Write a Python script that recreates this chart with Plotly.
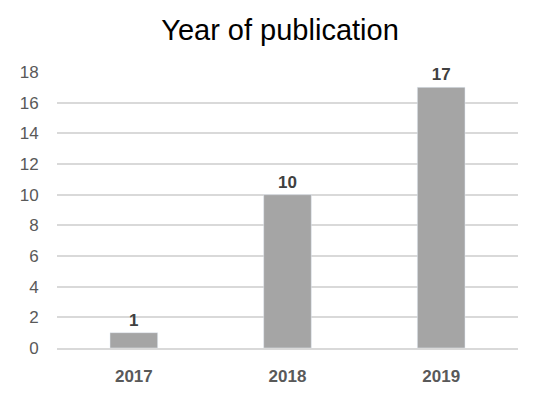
import plotly.graph_objects as go

years = ["2017", "2018", "2019"]
counts = [1, 10, 17]
y_ticks = [0, 2, 4, 6, 8, 10, 12, 14, 16, 18]

FONT = "Liberation Sans, Arial, sans-serif"

fig = go.Figure()
fig.add_trace(go.Bar(
    x=years, y=counts,
    marker=dict(color="#a5a5a5"),
    text=[f"<b>{c}</b>" for c in counts],
    textposition="outside",
    textfont=dict(family=FONT, size=17, color="#404040"),
    cliponaxis=False,
    hoverinfo="skip",
))

fig.update_layout(
    width=544, height=390,
    margin=dict(l=48, r=34, t=64, b=48),
    paper_bgcolor="white", plot_bgcolor="white",
    showlegend=False,
    bargap=0.69,
    title=dict(text="Year of publication", x=0.5, xanchor="center",
               font=dict(family=FONT, size=29, color="#000000")),
    xaxis=dict(
        type="category", showgrid=False, zeroline=False,
        showline=True, linecolor="#d9d9d9", linewidth=1.5,
        ticks="outside", ticklen=12, tickcolor="rgba(255,255,255,0)",
        tickfont=dict(family=FONT, size=17, color="#595959", weight="bold"),
    ),
    yaxis=dict(
        range=[0, 18], tickvals=y_ticks, showgrid=True, gridcolor="#d9d9d9",
        gridwidth=1.5, zeroline=False, showline=False,
        ticks="outside", ticklen=14, tickcolor="rgba(255,255,255,0)",
        tickfont=dict(family=FONT, size=17, color="#595959"),
    ),
    font=dict(family=FONT),
)

fig.write_html("out.html")
